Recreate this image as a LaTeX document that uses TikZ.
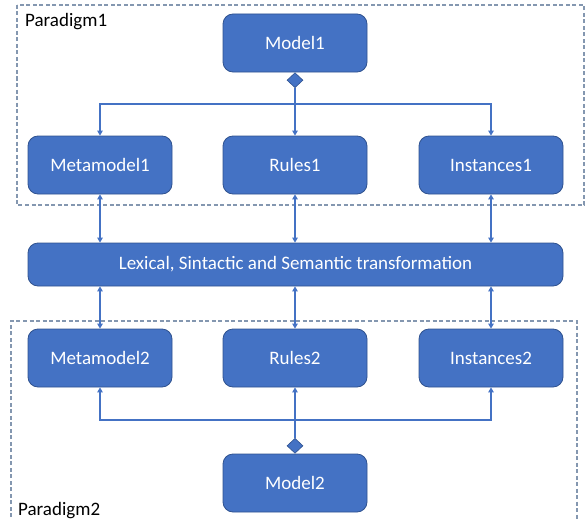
\documentclass[tikz,border=0pt]{standalone}
\usepackage{fontspec}
\setmainfont{Carlito}
\usetikzlibrary{arrows.meta,shapes.geometric}
\definecolor{boxfill}{HTML}{4472C4}
\definecolor{boxline}{HTML}{2F528F}
\definecolor{linkc}{HTML}{4472C4}
\definecolor{framec}{HTML}{8497B0}
\tikzset{
  blockbox/.style={rectangle, rounded corners=10pt, fill=boxfill, draw=boxline,
    line width=0.8pt, text=white, minimum width=144pt, minimum height=58pt,
    inner sep=0pt, font=\fontsize{19}{23}\selectfont},
  wide/.style={blockbox, minimum width=535pt, minimum height=43pt},
  joint/.style={diamond, fill=boxfill, draw=boxline, line width=0.6pt,
    minimum width=16pt, minimum height=15pt, inner sep=0pt},
  link/.style={draw=linkc, line width=1.2pt},
  tip/.style={-{Triangle[length=5pt,width=5.5pt]}},
  bitip/.style={{Triangle[length=5pt,width=5.5pt]}-{Triangle[length=5pt,width=5.5pt]}},
  frame/.style={draw=framec, line width=1.3pt, dash pattern=on 4pt off 2.5pt},
  caption/.style={anchor=base west, inner sep=0pt, font=\fontsize{19}{23}\selectfont}
}
\begin{document}
\begin{tikzpicture}[x=1pt,y=-1pt]
\useasboundingbox (0,0) rectangle (586,519);

% paradigm frames
\draw[frame] (17,5) rectangle (584,205);
\draw[frame] (11,530) -- (11,321) -- (577,321) -- (577,530);
\node[caption] (p1) at (25,27) {Paradigm1};
\node[caption] (p2) at (18,515) {Paradigm2};

% first paradigm
\node[blockbox] (model1) at (295,43) {Model1};
\node[blockbox] (meta1) at (100,165) {Metamodel1\hspace{19pt}};
\node[blockbox] (rules1) at (295,165) {Rules1};
\node[blockbox] (inst1) at (491,165) {Instances1\hspace{20pt}};
\node[joint, anchor=north] (d1) at (model1.south) {};
\coordinate (j1) at (295,104);

% transformation layer
\node[wide] (lex) at (295.5,264.5) {Lexical, Sintactic and Semantic transformation\hspace{8pt}};

% second paradigm
\node[blockbox] (meta2) at (100,358) {Metamodel2\hspace{19pt}};
\node[blockbox] (rules2) at (295,358) {Rules2};
\node[blockbox] (inst2) at (491,358) {Instances2\hspace{20pt}};
\node[blockbox] (model2) at (295,483) {Model2\hspace{6pt}};
\node[joint, anchor=south] (d2) at (model2.north) {};
\coordinate (j2) at (295,420);

% model fan-out
\draw[link] (d1.south) -- (j1);
\draw[link, tip] (j1) -| (meta1.north);
\draw[link, tip] (j1) -| (inst1.north);
\draw[link, tip] (j1) -- (rules1.north);

\draw[link] (d2.north) -- (j2);
\draw[link, tip] (j2) -| (meta2.south);
\draw[link, tip] (j2) -| (inst2.south);
\draw[link, tip] (j2) -- (rules2.south);

% links through the transformation layer
\foreach \n in {meta,rules,inst}{
  \draw[link, bitip] (\n1.south) -- (\n1.south |- lex.north);
  \draw[link, bitip] (\n2.north |- lex.south) -- (\n2.north);
}
\end{tikzpicture}
\end{document}
